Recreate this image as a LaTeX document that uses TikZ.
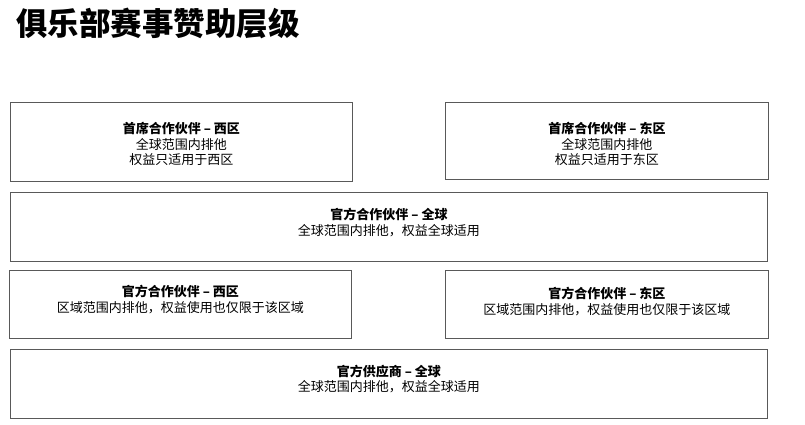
\documentclass[tikz,border=0pt]{standalone}
\usepackage{fontspec}
\setmainfont{Noto Sans CJK SC}
\newfontfamily\cjk{Noto Sans CJK SC}
\begin{document}
\begin{tikzpicture}[x=1pt,y=-1pt,
  tier/.style={draw=black!65, line width=0.9pt, fill=white, inner sep=0pt, anchor=north west},
  tiertext/.style={align=center, font=\cjk\fontsize{13}{15.5}\selectfont, inner sep=0pt, text=black},
  heading/.style={font=\cjk\bfseries\fontsize{31.5}{34}\selectfont, anchor=west, inner sep=0pt}]
\useasboundingbox (0,0) rectangle (805,425);
\node[heading] (title) at (16,23) {俱乐部赛事赞助层级};
% boxes
\node[tier, minimum width=342pt, minimum height=79pt] (b1) at (10,102) {};
\node[tier, minimum width=323pt, minimum height=77pt] (b2) at (445,102) {};
\node[tier, minimum width=757pt, minimum height=69pt] (b3) at (10,192) {};
\node[tier, minimum width=342pt, minimum height=68pt] (b4) at (9,270) {};
\node[tier, minimum width=323pt, minimum height=68pt] (b5) at (445,270) {};
\node[tier, minimum width=757pt, minimum height=69pt] (b6) at (10,349) {};
% texts
\node[tiertext] (t1) at ([yshift=-2pt]b1.center) {\textbf{首席合作伙伴 – 西区}\\全球范围内排他\\权益只适用于西区};
\node[tiertext] (t2) at ([yshift=-3pt]b2.center) {\textbf{首席合作伙伴 – 东区}\\全球范围内排他\\权益只适用于东区};
\node[tiertext] (t3) at ([yshift=4.5pt]b3.center) {\textbf{官方合作伙伴 – 全球}\\全球范围内排他，权益全球适用};
\node[tiertext] (t4) at ([yshift=5pt]b4.center) {\textbf{官方合作伙伴 – 西区}\\区域范围内排他，权益使用也仅限于该区域};
\node[tiertext] (t5) at ([yshift=3pt]b5.center) {\textbf{官方合作伙伴 – 东区}\\区域范围内排他，权益使用也仅限于该区域};
\node[tiertext] (t6) at ([yshift=5pt]b6.center) {\textbf{官方供应商 – 全球}\\全球范围内排他，权益全球适用};
\end{tikzpicture}
\end{document}
